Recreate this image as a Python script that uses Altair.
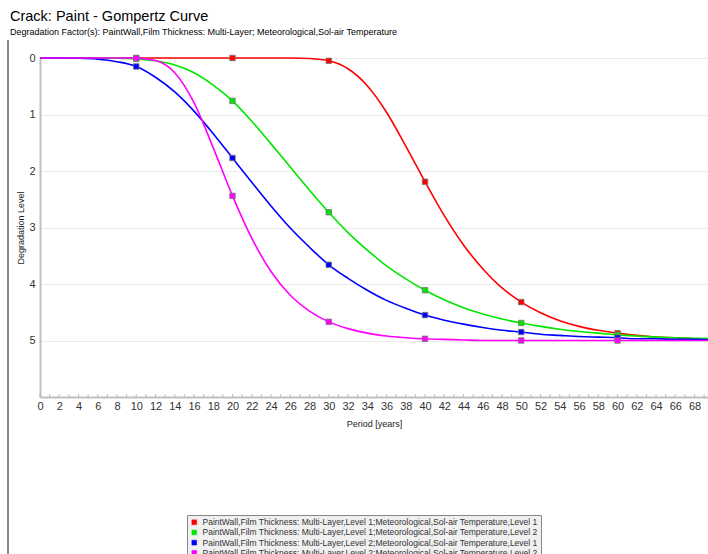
import altair as alt
import pandas as pd

years = list(range(0, 71, 2))

red_vals = [0, 0, 0, 0, 0, 0, 0, 0, 0, 0, 0, 0, 0, 0,
            0.01, 0.05, 0.19, 0.49, 0.96, 1.56, 2.19, 2.79, 3.31, 3.73, 4.07,
            4.32, 4.51, 4.65, 4.75, 4.82, 4.87, 4.91, 4.94, 4.95, 4.97, 4.98]
green_vals = [0, 0, 0, 0, 0.003, 0.015, 0.05, 0.125, 0.26, 0.48, 0.76, 1.12,
              1.52, 1.93, 2.34, 2.73, 3.09, 3.40, 3.68, 3.91, 4.11, 4.28, 4.42,
              4.53, 4.62, 4.69, 4.75, 4.80, 4.84, 4.87, 4.90, 4.92, 4.94, 4.95,
              4.96, 4.97]
blue_vals = [0, 0.001, 0.005, 0.02, 0.065, 0.15, 0.34, 0.60, 0.94, 1.34, 1.77,
             2.20, 2.62, 3.01, 3.35, 3.66, 3.90, 4.11, 4.29, 4.43, 4.55, 4.64,
             4.71, 4.77, 4.82, 4.85, 4.89, 4.91, 4.93, 4.94, 4.95, 4.97, 4.97,
             4.98, 4.98, 4.99]
magenta_vals = [0, 0, 0, 0, 0, 0.003, 0.045, 0.26, 0.79, 1.59, 2.44, 3.19,
                3.78, 4.20, 4.48, 4.67, 4.79, 4.87, 4.92, 4.95, 4.97, 4.98,
                4.99, 5.0, 5.0, 5.0, 5.0, 5.0, 5.0, 5.0, 5.0, 5.0, 5.0, 5.0,
                5.0, 5.0]

labels = [
    "PaintWall,Film Thickness: Multi-Layer,Level 1;Meteorological,Sol-air Temperature,Level 1",
    "PaintWall,Film Thickness: Multi-Layer,Level 1;Meteorological,Sol-air Temperature,Level 2",
    "PaintWall,Film Thickness: Multi-Layer,Level 2;Meteorological,Sol-air Temperature,Level 1",
    "PaintWall,Film Thickness: Multi-Layer,Level 2;Meteorological,Sol-air Temperature,Level 2",
]
colors = ["#ff0000", "#00e600", "#0000ff", "#ff00ff"]
marker_years = [10, 20, 30, 40, 50, 60]
x_labels = list(range(0, 70, 2))
minor_ticks = list(range(0, 70))
y_labels = [0, 1, 2, 3, 4, 5]

rows = []
for i, (lab, vals) in enumerate(zip(labels, [red_vals, green_vals, blue_vals, magenta_vals])):
    for yr, v in zip(years, vals):
        rows.append({"year": yr, "level": v, "series": lab, "order": i})
df = pd.DataFrame(rows)
markers = df[df["year"].isin(marker_years)]
ticks_df = pd.DataFrame({"year": minor_ticks})

FONT = "Liberation Sans"

xscale = alt.Scale(domain=[0, 69.4], nice=False, zero=False)
yscale = alt.Scale(domain=[0, 6], reverse=True, nice=False)

legend = alt.Legend(
    title=None, orient="none", legendX=147, legendY=457,
    direction="vertical", symbolType="square", symbolSize=22,
    symbolStrokeColor="#777", symbolStrokeWidth=0.6,
    labelFontSize=8.5, labelFont=FONT, labelColor="#333", labelLimit=500,
    rowPadding=1.2, padding=3, fillColor="#f0f0f0", strokeColor="#888",
    symbolOffset=0, labelOffset=4,
)
cscale = alt.Scale(domain=labels, range=colors)

x_axis = alt.Axis(values=x_labels, title="Period [years]", grid=False, ticks=False,
                  labelFontSize=11, labelFont=FONT, labelColor="#333", labelPadding=3,
                  titleFontSize=9, titleFont=FONT, titleFontWeight="normal",
                  titleColor="#222", titlePadding=8, domainColor="#c0c0c0",
                  domainWidth=2, labelFlush=False, labelOverlap=False, format="d")
y_axis = alt.Axis(values=y_labels, title="Degradation Level", grid=True, ticks=False,
                  gridColor="#ebebeb", gridWidth=1,
                  labelFontSize=11, labelFont=FONT, labelColor="#333", labelPadding=5,
                  titleFontSize=9, titleFont=FONT, titleFontWeight="normal",
                  titleColor="#222", titlePadding=3, domainColor="#c0c0c0",
                  domainWidth=2, format="d")

X = alt.X("year:Q", scale=xscale, axis=x_axis, title="Period [years]")
Y = alt.Y("level:Q", scale=yscale, axis=y_axis, title="Degradation Level")
C = alt.Color("series:N", scale=cscale, legend=legend)

lines = alt.Chart(df).mark_line(strokeWidth=1.6, interpolate="monotone").encode(
    x=X, y=Y, color=C, order="order:Q", detail="series:N"
)
points = alt.Chart(markers).mark_point(
    shape="square", filled=True, size=30, stroke="#777", strokeWidth=0.8, opacity=1
).encode(x=X, y=Y, color=C, order="order:Q")
minor = alt.Chart(ticks_df).mark_tick(color="#aaa", thickness=1, size=3).encode(
    x=X, y=alt.value(337.5)
)
border = alt.Chart(ticks_df).mark_rule(color="#888", strokeWidth=1).encode(
    x=alt.value(-32), y=alt.value(-18), y2=alt.value(500)
)

chart = alt.layer(border, minor, lines, points).properties(
    width=668, height=339,
    autosize=alt.AutoSizeParams(type="none"),
    padding={"left": 40, "top": 58, "right": 0, "bottom": 157},
    title=alt.TitleParams(
        text="Crack: Paint - Gompertz Curve",
        subtitle="Degradation Factor(s): PaintWall,Film Thickness: Multi-Layer; Meteorological,Sol-air Temperature",
        anchor="start", frame="group", dx=-30, offset=2,
        fontSize=14.5, font=FONT, fontWeight="normal", color="#000",
        subtitleFontSize=9, subtitleFont=FONT, subtitleColor="#000", subtitlePadding=3,
    ),
).configure_view(stroke=None).configure(background="white")

chart.save("out.html", embed_options={"renderer": "svg", "actions": False})
